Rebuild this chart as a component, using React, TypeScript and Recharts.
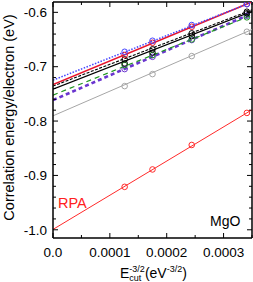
import React from "react";
import {
  ComposedChart,
  Line,
  Scatter,
  XAxis,
  YAxis,
  ReferenceLine,
} from "recharts";

// ---------- data ----------
const X_DOMAIN = [0, 0.00035];
const Y_DOMAIN = [-1.0151, -0.581];

const X_TICKS = [0, 0.00005, 0.0001, 0.00015, 0.0002, 0.00025, 0.0003, 0.00035];
const X_MAJOR = [0, 0.0001, 0.0002, 0.0003];
const X_MAJOR_LABELS = ["0.0", "0.0001", "0.0002", "0.0003"];

const Y_TICKS = [
  -1.0, -0.98, -0.96, -0.94, -0.92, -0.9, -0.88, -0.86, -0.84, -0.82, -0.8,
  -0.78, -0.76, -0.74, -0.72, -0.7, -0.68, -0.66, -0.64, -0.62, -0.6,
];
const Y_MAJOR = [-1.0, -0.9, -0.8, -0.7, -0.6];
const Y_MAJOR_LABELS = ["-1.0", "-0.9", "-0.8", "-0.7", "-0.6"];

// E_cut^(-3/2) of the computed points
const ECUT_X = [0.000126, 0.000175, 0.000244, 0.000341];
// extent of the extrapolation lines
const FIT_X = [0, 0.00035];

const blueVals = [-0.6726, -0.6523, -0.6234, -0.585];
const blueFit = [-0.7247, -0.5813];

const redVals = [-0.6786, -0.656, -0.6265, -0.5847];
const redFit = [-0.733, -0.5808];

const blackDashVals = [-0.6866, -0.6681, -0.6387, -0.5989];
const blackDashFit = [-0.7357, -0.5954];

const blackVals = [-0.694, -0.6742, -0.6437, -0.6018];
const blackFit = [-0.7413, -0.5981];

const greenVals = [-0.697, -0.6786, -0.6498, -0.6092];
const greenFit = [-0.7523, -0.6052];

const purpleVals = [-0.7044, -0.6818, -0.651, -0.6062];
const purpleFit = [-0.7615, -0.6019];

const grayVals = [-0.7357, -0.7136, -0.6805, -0.6357];
const grayFit = [-0.7904, -0.6316];

const rpaVals = [-0.921, -0.889, -0.844, -0.785];
const rpaFit = [-0.9993, -0.7793];

// ---------- layout ----------
const W = 253;
const H = 282;
const MARGIN = { top: 2, right: 1, bottom: 0, left: 0 };
const Y_AXIS_W = 53;
const X_AXIS_H = 44;
const PLOT_LEFT = MARGIN.left + Y_AXIS_W;
const PLOT_RIGHT = W - MARGIN.right;
const PLOT_TOP = MARGIN.top;
const PLOT_BOTTOM = H - MARGIN.bottom - X_AXIS_H;
const FONT = '"Liberation Sans", Arial, Helvetica, sans-serif';
const FRAME = { stroke: "#000", strokeWidth: 1.5 };

interface SeriesDef {
  key: string;
  color: string;
  width: number;
  dash?: string;
  values: number[];
  fit: number[];
}

// drawn bottom to top
const SERIES: SeriesDef[] = [
  { key: "gray", color: "#a6a6a6", width: 1, values: grayVals, fit: grayFit },
  { key: "rpa", color: "#ff2a2a", width: 1, values: rpaVals, fit: rpaFit },
  { key: "purple", color: "#6a35cf", width: 2.6, dash: "4 3", values: purpleVals, fit: purpleFit },
  { key: "green", color: "#1e961e", width: 1.2, dash: "5 4", values: greenVals, fit: greenFit },
  { key: "black", color: "#000000", width: 1.1, values: blackVals, fit: blackFit },
  { key: "blackDash", color: "#000000", width: 1.1, dash: "3 1.5", values: blackDashVals, fit: blackDashFit },
  { key: "red", color: "#e8142c", width: 1.6, values: redVals, fit: redFit },
  { key: "blue", color: "#4646ff", width: 1.5, dash: "1.5 1.5", values: blueVals, fit: blueFit },
];

const near = (a: number, b: number) => Math.abs(a - b) < 1e-9;

function YTick(props: any) {
  const { y, payload } = props;
  const idx = Y_MAJOR.findIndex((m) => near(m, payload.value));
  const len = idx >= 0 ? 5 : 3;
  return (
    <g>
      <line x1={PLOT_LEFT} x2={PLOT_LEFT + len} y1={y} y2={y} stroke="#000" />
      <line x1={PLOT_RIGHT} x2={PLOT_RIGHT - len} y1={y} y2={y} stroke="#000" />
      {idx >= 0 && (
        <text
          x={PLOT_LEFT - 6}
          y={y}
          dy="0.35em"
          textAnchor="end"
          fontSize={13.5}
          fontFamily={FONT}
          fill="#000"
        >
          {Y_MAJOR_LABELS[idx]}
        </text>
      )}
    </g>
  );
}

function XTick(props: any) {
  const { x, payload } = props;
  const idx = X_MAJOR.findIndex((m) => near(m, payload.value));
  const len = idx >= 0 ? 5 : 3;
  return (
    <g>
      <line x1={x} x2={x} y1={PLOT_BOTTOM} y2={PLOT_BOTTOM - len} stroke="#000" />
      <line x1={x} x2={x} y1={PLOT_TOP} y2={PLOT_TOP + len} stroke="#000" />
      {idx >= 0 && (
        <text
          x={x}
          y={PLOT_BOTTOM + 19}
          textAnchor="middle"
          fontSize={13.5}
          fontFamily={FONT}
          fill="#000"
        >
          {X_MAJOR_LABELS[idx]}
        </text>
      )}
    </g>
  );
}

export default function App() {
  return (
    <div style={{ position: "absolute", left: 0, top: 0, width: W, height: H, background: "#fff" }}>
      <ComposedChart width={W} height={H} margin={MARGIN}>
        <XAxis
          type="number"
          dataKey="x"
          domain={X_DOMAIN}
          ticks={X_TICKS}
          allowDataOverflow
          height={X_AXIS_H}
          tickSize={0}
          tickLine={false}
          tick={<XTick />}
          axisLine={FRAME}
          interval={0}
        />
        <YAxis
          type="number"
          dataKey="y"
          domain={Y_DOMAIN}
          ticks={Y_TICKS}
          allowDataOverflow
          width={Y_AXIS_W}
          tickSize={0}
          tickLine={false}
          tick={<YTick />}
          axisLine={FRAME}
          interval={0}
        />
        <ReferenceLine y={Y_DOMAIN[1]} {...FRAME} ifOverflow="extendDomain" />
        <ReferenceLine x={X_DOMAIN[1]} {...FRAME} ifOverflow="extendDomain" />
        {SERIES.map((s) => (
          <Line
            key={s.key + "-fit"}
            data={FIT_X.map((x, i) => ({ x, y: s.fit[i] }))}
            dataKey="y"
            type="linear"
            stroke={s.color}
            strokeWidth={s.width}
            strokeDasharray={s.dash}
            dot={false}
            activeDot={false}
            isAnimationActive={false}
          />
        ))}
        {SERIES.map((s) => (
          <Scatter
            key={s.key + "-pts"}
            data={ECUT_X.map((x, i) => ({ x, y: s.values[i] }))}
            dataKey="y"
            isAnimationActive={false}
            shape={(p: any) => (
              <circle cx={p.cx} cy={p.cy} r={2.8} fill="none" stroke={s.color} strokeWidth={1} />
            )}
          />
        ))}
      </ComposedChart>
      <svg
        width={W}
        height={H}
        style={{ position: "absolute", left: 0, top: 0, pointerEvents: "none" }}
        fontFamily={FONT}
      >
        <text
          x={14}
          y={117.5}
          transform="rotate(-90 14 117.5)"
          textAnchor="middle"
          fontSize={14.5}
          fill="#000"
        >
          Correlation energy/electron (eV)
        </text>
        <text x={58} y={208} fontSize={14.5} fill="#ff2020">
          RPA
        </text>
        <text x={210} y={226} fontSize={14} fill="#000">
          MgO
        </text>
        <text x={120} y={278} fontSize={14} fill="#000">
          E
          <tspan fontSize={9} dy={3}>cut</tspan>
          <tspan fontSize={9} dx={-12} dy={-9}>-3/2</tspan>
          <tspan dy={6}>(eV</tspan>
          <tspan fontSize={9} dy={-6}>-3/2</tspan>
          <tspan dy={6}>)</tspan>
        </text>
      </svg>
    </div>
  );
}
